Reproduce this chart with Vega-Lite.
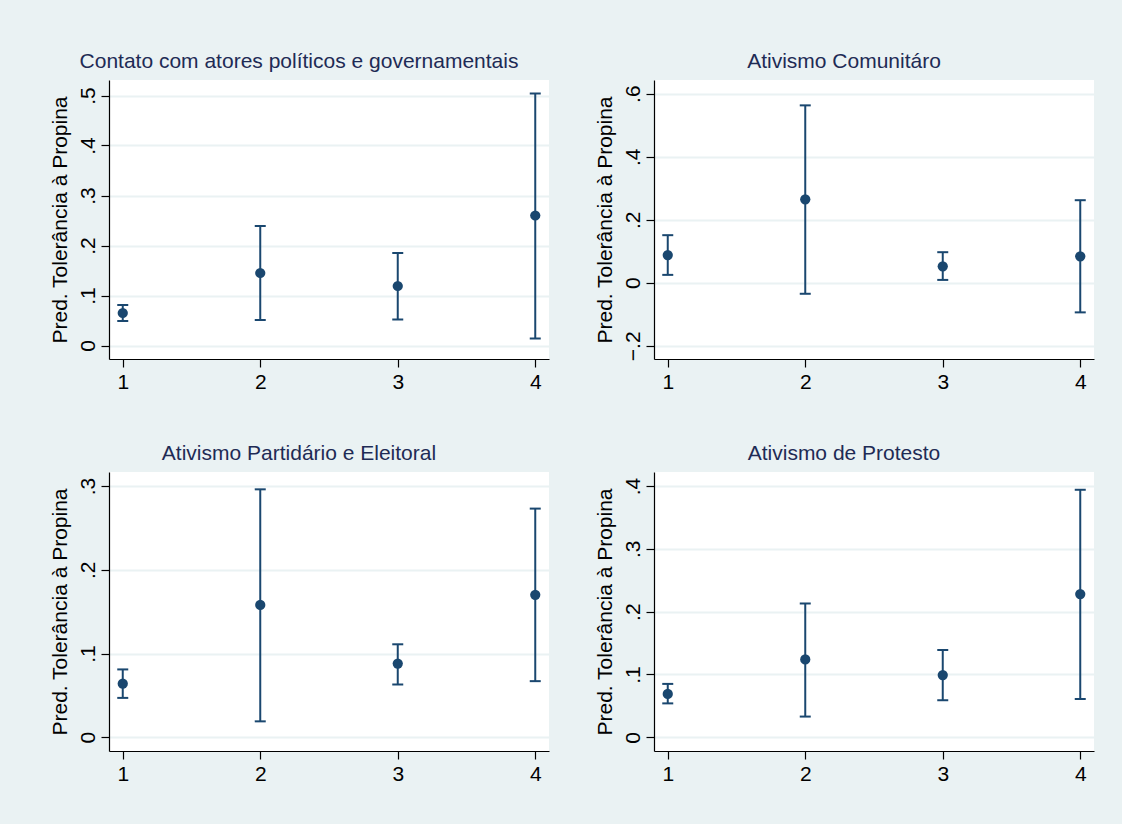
{
  "$schema": "https://vega.github.io/schema/vega-lite/v6.json",
  "background": "#EAF2F3",
  "padding": {"left": 48, "top": 51, "right": 28, "bottom": 40},
  "config": {
    "font": "Liberation Sans",
    "view": {"fill": "white", "stroke": null},
    "title": {"font": "Liberation Sans", "fontSize": 21, "fontWeight": "normal", "color": "#1E2B55", "anchor": "middle", "frame": "bounds", "offset": 8},
    "axis": {"labelFont": "Liberation Sans", "titleFont": "Liberation Sans", "labelFontSize": 21, "titleFontSize": 21, "titleFontWeight": "normal", "labelColor": "#000000", "titleColor": "#000000", "domainColor": "#000000", "tickColor": "#000000", "tickSize": 8, "domainWidth": 1.2, "tickWidth": 1.2},
    "axisY": {"labelAngle": 270, "labelAlign": "center", "labelBaseline": "bottom", "labelPadding": 3, "titlePadding": 7, "gridColor": "#EAF2F3", "gridWidth": 2, "grid": true},
    "axisX": {"grid": false, "labelPadding": 4, "labelAngle": 0}
  },
  "data": {"values": [
    {"panel": "A", "x": 1, "est": 0.065, "lo": 0.049, "hi": 0.081},
    {"panel": "A", "x": 2, "est": 0.145, "lo": 0.051, "hi": 0.239},
    {"panel": "A", "x": 3, "est": 0.119, "lo": 0.052, "hi": 0.185},
    {"panel": "A", "x": 4, "est": 0.260, "lo": 0.014, "hi": 0.504},
    {"panel": "B", "x": 1, "est": 0.088, "lo": 0.025, "hi": 0.151},
    {"panel": "B", "x": 2, "est": 0.265, "lo": -0.035, "hi": 0.563},
    {"panel": "B", "x": 3, "est": 0.052, "lo": 0.009, "hi": 0.097},
    {"panel": "B", "x": 4, "est": 0.084, "lo": -0.094, "hi": 0.262},
    {"panel": "C", "x": 1, "est": 0.064, "lo": 0.047, "hi": 0.081},
    {"panel": "C", "x": 2, "est": 0.158, "lo": 0.019, "hi": 0.296},
    {"panel": "C", "x": 3, "est": 0.088, "lo": 0.063, "hi": 0.111},
    {"panel": "C", "x": 4, "est": 0.170, "lo": 0.067, "hi": 0.273},
    {"panel": "D", "x": 1, "est": 0.069, "lo": 0.054, "hi": 0.085},
    {"panel": "D", "x": 2, "est": 0.124, "lo": 0.033, "hi": 0.213},
    {"panel": "D", "x": 3, "est": 0.099, "lo": 0.059, "hi": 0.139},
    {"panel": "D", "x": 4, "est": 0.228, "lo": 0.061, "hi": 0.394}
  ]},
  "columns": 2,
  "spacing": {"column": 44, "row": 51},
  "concat": [
    {
      "width": 440, "height": 279,
      "title": {"text": "Contato com atores políticos e governamentais"},
      "transform": [{"filter": "datum.panel == 'A'"}],
      "encoding": {
        "x": {"field": "x", "type": "quantitative", "scale": {"domain": [0.9, 4.1], "nice": false, "zero": false}, "axis": {"values": [1, 2, 3, 4], "format": "d", "title": null}}
      },
      "layer": [
        {"mark": {"type": "rule", "color": "#1A476F", "strokeWidth": 2},
         "encoding": {"y": {"field": "lo", "type": "quantitative", "scale": {"domain": [-0.027, 0.531], "nice": false, "zero": false}, "axis": {"values": [0, 0.1, 0.2, 0.3, 0.4, 0.5], "labelExpr": "datum.value == 0 ? '0' : replace(format(datum.value, '.1f'), '0.', '.')", "title": "Pred. Tolerância à Propina"}}, "y2": {"field": "hi"}}},
        {"mark": {"type": "point", "shape": "M-1,0L1,0", "filled": false, "stroke": "#1A476F", "strokeWidth": 2, "size": 121, "opacity": 1},
         "encoding": {"y": {"field": "lo", "type": "quantitative"}}},
        {"mark": {"type": "point", "shape": "M-1,0L1,0", "filled": false, "stroke": "#1A476F", "strokeWidth": 2, "size": 121, "opacity": 1},
         "encoding": {"y": {"field": "hi", "type": "quantitative"}}},
        {"mark": {"type": "circle", "size": 105, "color": "#1A476F", "opacity": 1},
         "encoding": {"y": {"field": "est", "type": "quantitative"}}}
      ]
    },
    {
      "width": 440, "height": 279,
      "title": {"text": "Ativismo Comunitáro"},
      "transform": [{"filter": "datum.panel == 'B'"}],
      "encoding": {
        "x": {"field": "x", "type": "quantitative", "scale": {"domain": [0.9, 4.1], "nice": false, "zero": false}, "axis": {"values": [1, 2, 3, 4], "format": "d", "title": null}}
      },
      "layer": [
        {"mark": {"type": "rule", "color": "#1A476F", "strokeWidth": 2},
         "encoding": {"y": {"field": "lo", "type": "quantitative", "scale": {"domain": [-0.242, 0.6435], "nice": false, "zero": false}, "axis": {"values": [-0.2, 0, 0.2, 0.4, 0.6], "labelExpr": "datum.value == 0 ? '0' : replace(format(datum.value, '.1f'), '0.', '.')", "title": "Pred. Tolerância à Propina"}}, "y2": {"field": "hi"}}},
        {"mark": {"type": "point", "shape": "M-1,0L1,0", "filled": false, "stroke": "#1A476F", "strokeWidth": 2, "size": 121, "opacity": 1},
         "encoding": {"y": {"field": "lo", "type": "quantitative"}}},
        {"mark": {"type": "point", "shape": "M-1,0L1,0", "filled": false, "stroke": "#1A476F", "strokeWidth": 2, "size": 121, "opacity": 1},
         "encoding": {"y": {"field": "hi", "type": "quantitative"}}},
        {"mark": {"type": "circle", "size": 105, "color": "#1A476F", "opacity": 1},
         "encoding": {"y": {"field": "est", "type": "quantitative"}}}
      ]
    },
    {
      "width": 440, "height": 279,
      "title": {"text": "Ativismo Partidário e Eleitoral"},
      "transform": [{"filter": "datum.panel == 'C'"}],
      "encoding": {
        "x": {"field": "x", "type": "quantitative", "scale": {"domain": [0.9, 4.1], "nice": false, "zero": false}, "axis": {"values": [1, 2, 3, 4], "format": "d", "title": null}}
      },
      "layer": [
        {"mark": {"type": "rule", "color": "#1A476F", "strokeWidth": 2},
         "encoding": {"y": {"field": "lo", "type": "quantitative", "scale": {"domain": [-0.0164, 0.3167], "nice": false, "zero": false}, "axis": {"values": [0, 0.1, 0.2, 0.3], "labelExpr": "datum.value == 0 ? '0' : replace(format(datum.value, '.1f'), '0.', '.')", "title": "Pred. Tolerância à Propina"}}, "y2": {"field": "hi"}}},
        {"mark": {"type": "point", "shape": "M-1,0L1,0", "filled": false, "stroke": "#1A476F", "strokeWidth": 2, "size": 121, "opacity": 1},
         "encoding": {"y": {"field": "lo", "type": "quantitative"}}},
        {"mark": {"type": "point", "shape": "M-1,0L1,0", "filled": false, "stroke": "#1A476F", "strokeWidth": 2, "size": 121, "opacity": 1},
         "encoding": {"y": {"field": "hi", "type": "quantitative"}}},
        {"mark": {"type": "circle", "size": 105, "color": "#1A476F", "opacity": 1},
         "encoding": {"y": {"field": "est", "type": "quantitative"}}}
      ]
    },
    {
      "width": 440, "height": 279,
      "title": {"text": "Ativismo de Protesto"},
      "transform": [{"filter": "datum.panel == 'D'"}],
      "encoding": {
        "x": {"field": "x", "type": "quantitative", "scale": {"domain": [0.9, 4.1], "nice": false, "zero": false}, "axis": {"values": [1, 2, 3, 4], "format": "d", "title": null}}
      },
      "layer": [
        {"mark": {"type": "rule", "color": "#1A476F", "strokeWidth": 2},
         "encoding": {"y": {"field": "lo", "type": "quantitative", "scale": {"domain": [-0.0218, 0.4223], "nice": false, "zero": false}, "axis": {"values": [0, 0.1, 0.2, 0.3, 0.4], "labelExpr": "datum.value == 0 ? '0' : replace(format(datum.value, '.1f'), '0.', '.')", "title": "Pred. Tolerância à Propina"}}, "y2": {"field": "hi"}}},
        {"mark": {"type": "point", "shape": "M-1,0L1,0", "filled": false, "stroke": "#1A476F", "strokeWidth": 2, "size": 121, "opacity": 1},
         "encoding": {"y": {"field": "lo", "type": "quantitative"}}},
        {"mark": {"type": "point", "shape": "M-1,0L1,0", "filled": false, "stroke": "#1A476F", "strokeWidth": 2, "size": 121, "opacity": 1},
         "encoding": {"y": {"field": "hi", "type": "quantitative"}}},
        {"mark": {"type": "circle", "size": 105, "color": "#1A476F", "opacity": 1},
         "encoding": {"y": {"field": "est", "type": "quantitative"}}}
      ]
    }
  ]
}
